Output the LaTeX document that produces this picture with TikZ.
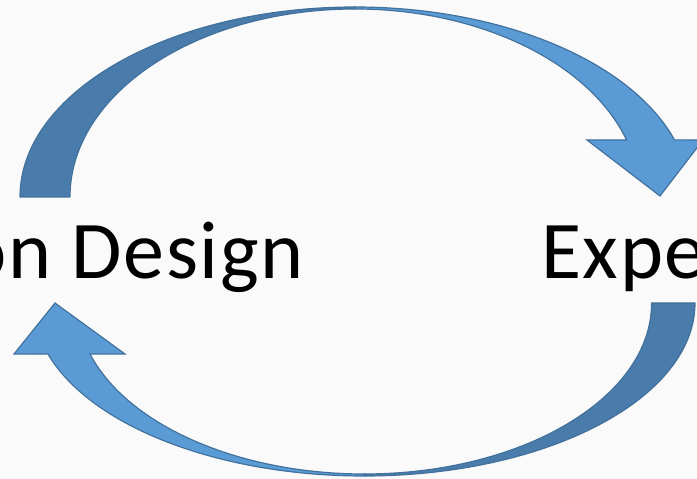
\documentclass[tikz,border=0pt]{standalone}
\usepackage{fontspec}
\setmainfont{Carlito}[LetterSpace=2]
\definecolor{arrowlight}{HTML}{5B9BD5}
\definecolor{arrowdark}{HTML}{497CAA}
\definecolor{arrowrim}{HTML}{41719C}
\definecolor{paper}{HTML}{FAFAFA}

\begin{document}
\begin{tikzpicture}[x=0.03cm, y=0.03cm, lbl/.style={inner sep=0pt, font=\fontsize{70}{84}\selectfont}, backarc/.style={fill=arrowdark, draw=arrowrim, line width=1pt, line join=round}, frontarc/.style={fill=arrowlight, draw=arrowrim, line width=1pt}]
\useasboundingbox (0,0) rectangle (697,479);
\clip (0,0) rectangle (697,479);
\fill[paper] (0,0) rectangle (697,479);
\node[lbl, anchor=base east] (design) at (304,200) {on Design};
\node[lbl, anchor=base west] (expe) at (541,200) {Expe};
% upper arrow
\draw[backarc] (20,282) arc[start angle=180, end angle=90, x radius=335, y radius=190]
  -- (355,470) arc[start angle=90, end angle=180, x radius=285, y radius=188] -- cycle;
\draw[frontarc] (355,472) arc[start angle=90, end angle=17.5, x radius=335, y radius=190]
  -- (703,339) -- (660,283) -- (587,339) -- (626.6,339)
  arc[start angle=17.65, end angle=90, x radius=285, y radius=188] -- cycle;
% lower arrow
\draw[backarc] (695,176) arc[start angle=0, end angle=-90, x radius=330.8, y radius=173]
  -- (364,5) arc[start angle=-90, end angle=0, x radius=287.6, y radius=171] -- cycle;
\draw[frontarc] (364,3) arc[start angle=270, end angle=197.15, x radius=330.8, y radius=173]
  -- (14,125) -- (55,176) -- (125,125) -- (90,125)
  arc[start angle=197.35, end angle=270, x radius=287.6, y radius=171] -- cycle;
\end{tikzpicture}
\end{document}
